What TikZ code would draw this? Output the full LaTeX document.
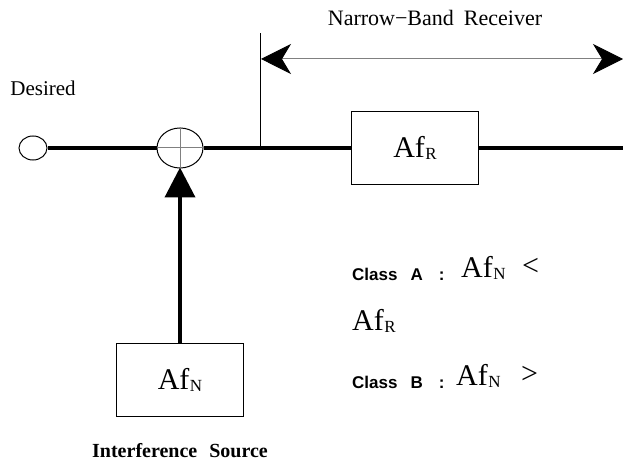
\documentclass[tikz,border=0pt]{standalone}
\usepackage{fontspec}
\setmainfont{Liberation Serif}
\newfontfamily\labelsans{Liberation Sans}
\usetikzlibrary{shapes.geometric,arrows.meta}
\newcommand{\gain}[1]{Af\kern0.5pt\raisebox{-2pt}{\fontsize{17}{17}\selectfont #1}}
\newcommand{\classtag}[1]{{\labelsans\bfseries\fontsize{17}{17}\selectfont Class\hspace{13pt}#1\hspace{16pt}:}}

\begin{document}
\begin{tikzpicture}[x=1pt,y=-1pt,
    signal/.style ={line width=4pt},
    thinline/.style ={line width=1pt},
    block/.style ={draw, line width=1pt, minimum width=127pt, minimum height=73pt, inner sep=0pt, font=\fontsize{30}{30}\selectfont},
    junction/.style ={ellipse, draw, line width=1pt, inner sep=0pt},
    caption/.style ={font=\fontsize{21}{21}\selectfont},
    cond/.style ={anchor=base west, inner sep=0pt, font=\fontsize{30}{30}\selectfont}]
   \useasboundingbox (0,0) rectangle (623,462);

   \node[junction, minimum width=28pt, minimum height=24pt] (src) at (33,148) {};
   \node[junction, minimum width=46pt, minimum height=40pt] (sum) at (180,148) {};
   \node[block] (rx) at (415,148) {\gain{R}};
   \node[block] (intf) at (180,380) {\gain{N}};
   \coordinate (out) at (623,148);
   \coordinate (tap) at (260,148);
   \coordinate (tapTop) at (260,33);
   \coordinate (bandL) at (261,59);
   \coordinate (bandR) at (623,59);

   \node[caption] (desired) at (43,88) {Desired};
   \node[caption, font=\bfseries\fontsize{20}{20}\selectfont] (source) at (180,451) {Interference\hspace{12pt}Source};
   \node[font=\fontsize{22}{22}\selectfont] (title) at (435,18) {Narrow−Band\hspace{10pt}Receiver};

   \node[cond, font=\normalfont] (classA) at (352,280) {\classtag{A}};
   \node[cond] (gainA) at (461,277) {\gain{N}};
   \node[cond] (lt) at (522,275) {<};
   \node[cond] (gainR) at (352,330) {\gain{R}};
   \node[cond, font=\normalfont] (classB) at (352,388) {\classtag{B}};
   \node[cond] (gainB) at (456,385) {\gain{N}};
   \node[cond] (gt) at (521,383) {>};

   \draw[signal] (src) to (sum);
   \draw[signal] (sum) to (rx);
   \draw[signal] (rx) to (out);
   \draw[thinline, gray] (sum.north) to (sum.south);
   \draw[thinline, gray] (sum.west) to (sum.east);
   \draw[thinline] (tap) to (tapTop);
   \draw[thinline, gray, {Stealth[length=30pt, width=30pt, inset=9pt, color=black]}-{Stealth[length=30pt, width=30pt, inset=9pt, color=black]}] (bandL) to (bandR);
   \draw[signal, -{Triangle[length=30pt, width=30pt]}, shorten >=-1pt] (intf) to (sum);
 \end{tikzpicture}
\end{document}
